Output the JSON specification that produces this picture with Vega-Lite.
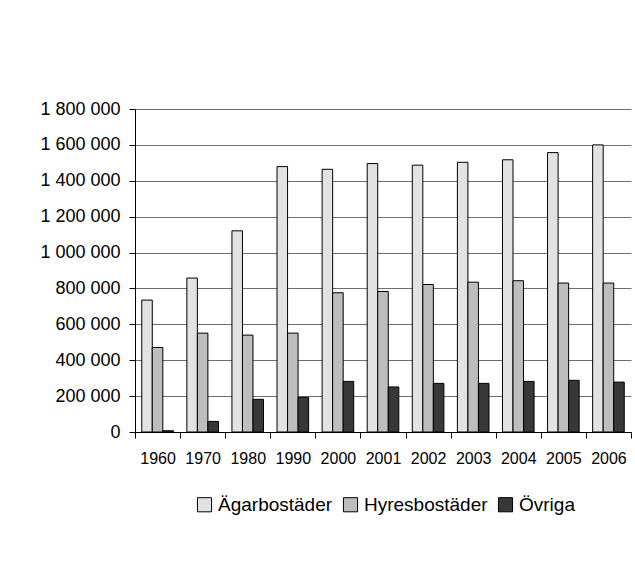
{
  "$schema": "https://vega.github.io/schema/vega-lite/v6.json",
  "autosize": {"type": "none"},
  "padding": {"left": 135, "top": 109, "right": 4, "bottom": 140},
  "width": 496,
  "height": 323,
  "background": "white",
  "config": {
    "font": "Liberation Sans",
    "view": {"stroke": null}
  },
  "data": {
    "values": [
      {"year": "1960", "typ": "Ägarbostäder", "antal": 735000},
      {"year": "1960", "typ": "Hyresbostäder", "antal": 471000},
      {"year": "1960", "typ": "Övriga", "antal": 7000},
      {"year": "1970", "typ": "Ägarbostäder", "antal": 858000},
      {"year": "1970", "typ": "Hyresbostäder", "antal": 551000},
      {"year": "1970", "typ": "Övriga", "antal": 59000},
      {"year": "1980", "typ": "Ägarbostäder", "antal": 1121000},
      {"year": "1980", "typ": "Hyresbostäder", "antal": 540000},
      {"year": "1980", "typ": "Övriga", "antal": 182000},
      {"year": "1990", "typ": "Ägarbostäder", "antal": 1479000},
      {"year": "1990", "typ": "Hyresbostäder", "antal": 551000},
      {"year": "1990", "typ": "Övriga", "antal": 193000},
      {"year": "2000", "typ": "Ägarbostäder", "antal": 1464000},
      {"year": "2000", "typ": "Hyresbostäder", "antal": 776000},
      {"year": "2000", "typ": "Övriga", "antal": 282000},
      {"year": "2001", "typ": "Ägarbostäder", "antal": 1496000},
      {"year": "2001", "typ": "Hyresbostäder", "antal": 783000},
      {"year": "2001", "typ": "Övriga", "antal": 251000},
      {"year": "2002", "typ": "Ägarbostäder", "antal": 1487000},
      {"year": "2002", "typ": "Hyresbostäder", "antal": 822000},
      {"year": "2002", "typ": "Övriga", "antal": 271000},
      {"year": "2003", "typ": "Ägarbostäder", "antal": 1503000},
      {"year": "2003", "typ": "Hyresbostäder", "antal": 835000},
      {"year": "2003", "typ": "Övriga", "antal": 271000},
      {"year": "2004", "typ": "Ägarbostäder", "antal": 1517000},
      {"year": "2004", "typ": "Hyresbostäder", "antal": 843000},
      {"year": "2004", "typ": "Övriga", "antal": 282000},
      {"year": "2005", "typ": "Ägarbostäder", "antal": 1557000},
      {"year": "2005", "typ": "Hyresbostäder", "antal": 830000},
      {"year": "2005", "typ": "Övriga", "antal": 288000},
      {"year": "2006", "typ": "Ägarbostäder", "antal": 1600000},
      {"year": "2006", "typ": "Hyresbostäder", "antal": 830000},
      {"year": "2006", "typ": "Övriga", "antal": 278000}
    ]
  },
  "mark": {"type": "bar", "stroke": "black", "strokeWidth": 1},
  "encoding": {
    "x": {
      "field": "year",
      "type": "nominal",
      "scale": {"paddingInner": 0, "paddingOuter": 0},
      "axis": {
        "title": null,
        "labelAngle": 0,
        "labelFontSize": 16,
        "labelColor": "black",
        "labelPadding": 12,
        "domainColor": "black",
        "tickColor": "black",
        "tickSize": 6,
        "tickBand": "extent",
        "grid": false
      }
    },
    "xOffset": {
      "field": "typ",
      "type": "nominal",
      "sort": ["Ägarbostäder", "Hyresbostäder", "Övriga"],
      "scale": {"paddingInner": 0, "paddingOuter": 0.64}
    },
    "y": {
      "field": "antal",
      "type": "quantitative",
      "scale": {"domain": [0, 1800000], "nice": false},
      "axis": {
        "title": null,
        "values": [0, 200000, 400000, 600000, 800000, 1000000, 1200000, 1400000, 1600000, 1800000],
        "labelExpr": "replace(format(datum.value, ','), /,/g, ' ')",
        "labelFontSize": 18,
        "labelColor": "black",
        "labelPadding": 9,
        "domainColor": "black",
        "tickColor": "black",
        "tickSize": 6,
        "gridColor": "#6e6e6e",
        "gridWidth": 1
      }
    },
    "fill": {
      "field": "typ",
      "type": "nominal",
      "sort": ["Ägarbostäder", "Hyresbostäder", "Övriga"],
      "scale": {"range": ["#e2e2e2", "#bdbdbd", "#383838"]},
      "legend": {
        "title": null,
        "orient": "none",
        "legendX": 60,
        "legendY": 386,
        "direction": "horizontal",
        "labelFontSize": 19,
        "labelColor": "black",
        "labelOffset": 4,
        "columnPadding": 8,
        "symbolType": "square",
        "symbolSize": 200,
        "symbolStrokeColor": "black",
        "symbolStrokeWidth": 1
      }
    }
  }
}
